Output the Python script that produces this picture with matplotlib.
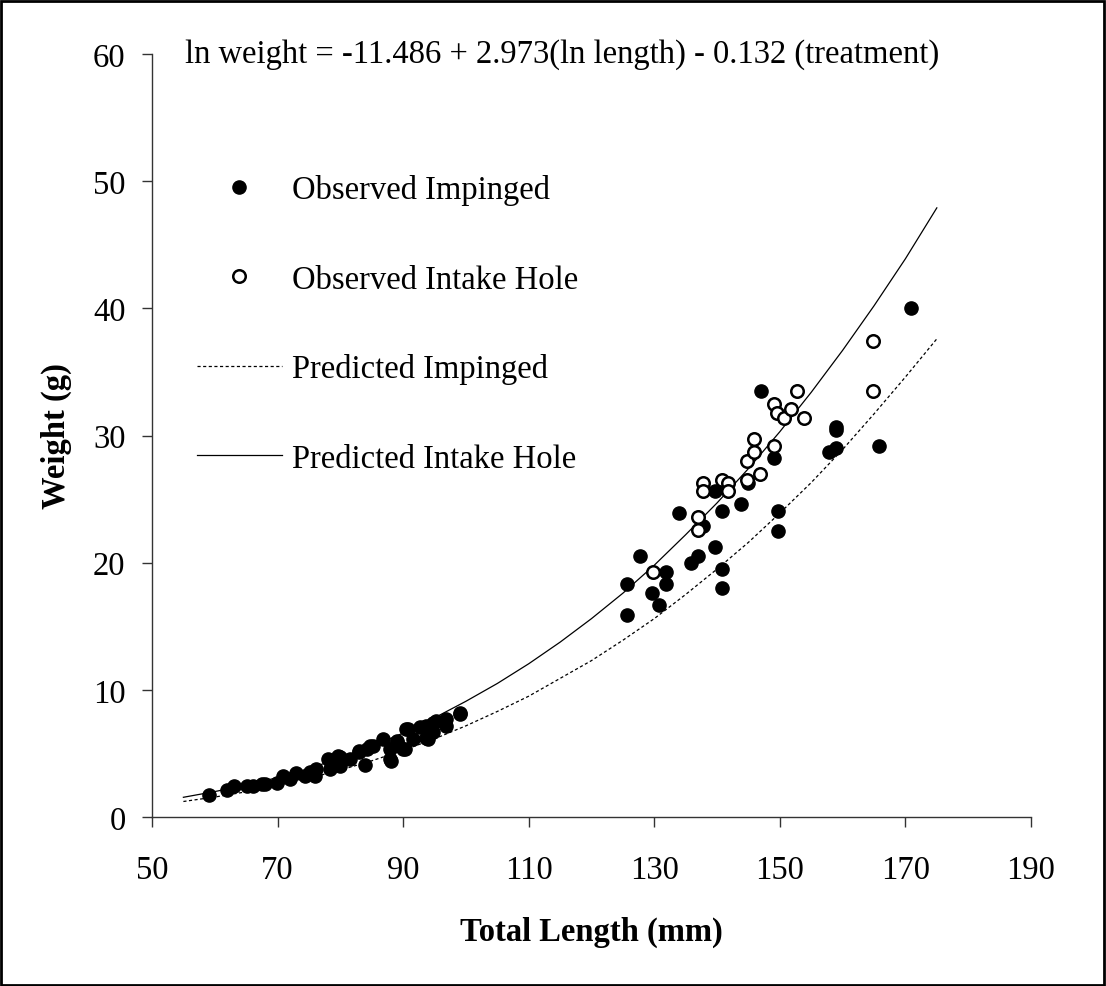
import matplotlib
matplotlib.use("Agg")
import matplotlib.pyplot as plt
from matplotlib.patches import Rectangle

plt.rcParams["font.family"] = ["Liberation Serif", "DejaVu Serif"]

# Observed fish weights (g) against total length (mm)
impinged_length = [
    59.0, 62.0, 63.1, 65.1, 66.1, 67.5, 68.0, 69.9, 70.9, 71.9, 73.0, 74.4, 75.2,
    76.2, 76.0, 78.1, 78.3, 79.7, 79.9, 81.5, 82.9, 83.9, 84.2, 85.2, 86.8, 87.9,
    88.0, 89.0, 90.0, 90.7, 91.6, 92.7, 93.7, 94.0, 95.3, 94.8, 96.9, 96.9, 99.0,
    79.9, 82.9, 84.7, 87.9, 89.0, 90.5, 90.3, 93.7, 94.8, 99.0,
    125.7, 125.7, 127.7, 129.7, 130.8, 131.8, 131.8, 133.9, 135.9, 137.0, 137.8,
    139.6, 139.6, 140.8, 140.8, 140.8, 143.8, 145.0, 147.0, 149.0, 149.7, 149.7,
    157.9, 158.9, 158.9, 158.9, 165.8, 170.9,
]
impinged_weight = [
    1.73, 2.12, 2.46, 2.40, 2.46, 2.56, 2.60, 2.70, 3.25, 3.00, 3.46, 3.25, 3.50,
    3.77, 3.25, 4.56, 3.77, 4.82, 4.00, 4.56, 5.13, 4.09, 5.35, 5.60, 6.13, 5.35,
    4.41, 5.86, 5.35, 6.92, 6.13, 7.04, 7.17, 6.13, 7.56, 6.65, 7.70, 7.17, 8.13,
    4.69, 5.20, 5.60, 4.56, 6.00, 6.92, 5.35, 6.25, 7.43, 8.20,
    18.3, 15.9, 20.5, 17.6, 16.7, 19.3, 18.3, 23.9, 20.0, 20.5, 22.9,
    25.6, 21.2, 24.1, 19.5, 18.0, 24.6, 26.3, 33.5, 28.2, 24.1, 22.5,
    28.7, 29.0, 30.7, 30.4, 29.2, 40.0,
]

intake_length = [
    129.8, 137.0, 137.0, 137.7, 137.7, 140.8, 141.8, 141.8, 144.8, 144.8, 145.9,
    145.9, 146.9, 149.0, 149.0, 149.6, 150.7, 151.7, 152.8, 153.8, 164.8, 164.8,
]
intake_weight = [
    19.3, 23.6, 22.6, 26.3, 25.6, 26.5, 26.3, 25.6, 28.0, 26.5, 29.7,
    28.7, 27.0, 29.2, 32.5, 31.8, 31.4, 32.1, 33.5, 31.4, 37.4, 33.5,
]

# Predicted weights from the fitted length-weight regression
pred_length = [55, 60, 65, 70, 75, 80, 85, 90, 95, 100, 105, 110, 115, 120,
               125, 130, 135, 140, 145, 150, 155, 160, 165, 170, 175]
pred_intake = [1.55, 2.0, 2.5, 3.1, 3.8, 4.65, 5.55, 6.6, 7.8, 9.1, 10.5, 12.05,
               13.75, 15.6, 17.6, 19.8, 22.2, 24.7, 27.4, 30.3, 33.4, 36.7, 40.2,
               43.9, 47.9]
pred_impinged = [1.22, 1.57, 1.98, 2.48, 3.05, 3.69, 4.42, 5.24, 6.15, 7.17, 8.3,
                 9.5, 10.9, 12.3, 13.9, 15.6, 17.5, 19.5, 21.6, 23.9, 26.3, 28.9,
                 31.7, 34.6, 37.6]

x_ticks = [50, 70, 90, 110, 130, 150, 170, 190]
y_ticks = [0, 10, 20, 30, 40, 50, 60]
equation = "ln weight = -11.486 + 2.973(ln length) - 0.132 (treatment)"

FS = 23.5

W, H = 1106, 987
fig = plt.figure(figsize=(W / 100, H / 100), dpi=100)
ax = fig.add_axes([152 / W, 1 - 818 / H, 879 / W, 763 / H])

ax.plot(pred_length, pred_impinged, color="black", lw=0.9, ls=(0, (2.5, 2)),
        label="Predicted Impinged", zorder=2)
ax.plot(pred_length, pred_intake, color="black", lw=0.9, ls="-",
        label="Predicted Intake Hole", zorder=2)
ax.plot(impinged_length, impinged_weight, ls="none", marker="o", ms=9.5,
        mfc="black", mec="black", mew=1, label="Observed Impinged", zorder=3)
ax.plot(intake_length, intake_weight, ls="none", marker="o", ms=9.0,
        mfc="white", mec="black", mew=1.8, label="Observed Intake Hole", zorder=4)

ax.set_xlim(50, 190)
ax.set_ylim(0, 60)
ax.set_xticks(x_ticks)
ax.set_yticks(y_ticks)
for s in ("top", "right"):
    ax.spines[s].set_visible(False)
for s in ("left", "bottom"):
    ax.spines[s].set_linewidth(1.0)
    ax.spines[s].set_color("#333333")
ax.tick_params(axis="both", direction="out", length=7, width=1.0, color="#333333",
               labelsize=FS)
ax.tick_params(axis="x", pad=20)
ax.tick_params(axis="y", pad=12)

ax.set_xlabel("Total Length (mm)", fontsize=FS, fontweight="bold")
ax.set_ylabel("Weight (g)", fontsize=FS, fontweight="bold")
ax.xaxis.set_label_coords(0.5, -0.129)
ax.yaxis.set_label_coords(-0.091, 0.5)

ax.text(0.0375, 1.0, equation, transform=ax.transAxes, fontsize=FS,
        ha="left", va="center")

handles, labels = ax.get_legend_handles_labels()
order = [2, 3, 0, 1]
ax.legend([handles[i] for i in order], [labels[i] for i in order],
          loc="upper left", bbox_to_anchor=(0.0325, 0.8635), frameon=False,
          fontsize=FS, handlelength=2.6, handletextpad=0.3,
          labelspacing=1.8, borderpad=0, numpoints=1)

fig.patches.append(Rectangle((0.001, 0.001), 0.997, 0.997, transform=fig.transFigure,
                             fill=False, edgecolor="black", linewidth=2))

fig.savefig("out.png", dpi=100)
